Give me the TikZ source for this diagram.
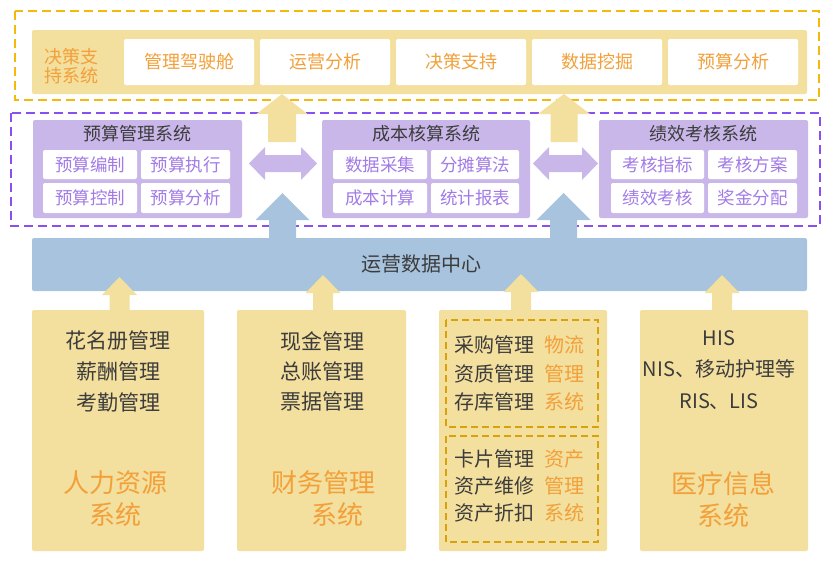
\documentclass[tikz,border=0pt]{standalone}
\usepackage{fontspec}
\setmainfont{Noto Sans CJK SC}
\definecolor{bandY}{HTML}{F3DF9E}
\definecolor{bandB}{HTML}{A7C3DD}
\definecolor{boxP}{HTML}{C9B7EA}
\definecolor{txtP}{HTML}{A27BE6}
\definecolor{txtO}{HTML}{F2A03A}
\definecolor{txtD}{HTML}{3C3C3C}
\definecolor{dashO}{HTML}{F5B90A}
\definecolor{dashP}{HTML}{8A4FF0}
\definecolor{dashG}{HTML}{D8A20A}
\newcommand\myUp[7]{% color, cx, tip, headbase, bottom, halfhead, halfshaft
  \fill[#1] (#2,#3) -- ({#2+#6},#4) -- ({#2+#7},#4) -- ({#2+#7},#5) -- ({#2-#7},#5) -- ({#2-#7},#4) -- ({#2-#6},#4) -- cycle;}
\newcommand\myBoth[6]{% color, xl, xr, cy, halfhead, halfshaft
  \fill[#1] (#2,#4) -- ({#2+16},{#4-#5}) -- ({#2+16},{#4-#6}) -- ({#3-16},{#4-#6}) -- ({#3-16},{#4-#5}) -- (#3,#4) -- ({#3-16},{#4+#5}) -- ({#3-16},{#4+#6}) -- ({#2+16},{#4+#6}) -- ({#2+16},{#4+#5}) -- cycle;}
\begin{document}
\begin{tikzpicture}[x=1pt,y=-1pt,
  rbox/.style={inner sep=0pt, rounded corners=2pt, draw=none},
  dssbox/.style={rbox, fill=white, minimum width=130pt, minimum height=46pt, text=txtO, font=\fontsize{18}{20}\selectfont},
  ptitle/.style={inner sep=0pt, text=txtD, font=\fontsize{18}{20}\selectfont},
  subbox/.style={rbox, fill=white, text=txtP, font=\fontsize{17.5}{20}\selectfont},
  pbox/.style={rbox, fill=boxP, minimum height=98pt},
  lowbox/.style={rbox, fill=bandY, minimum height=241pt},
  darktxt/.style={inner sep=0pt, align=center, text=txtD},
  orgtxt/.style={inner sep=0pt, align=center, text=txtO},
  dframe/.style={line width=1.8pt, dash pattern=on 9pt off 5pt},
]
\useasboundingbox (0,0) rectangle (822,563);

% decision support layer
\draw[dframe, draw=dashO] (15,11) rectangle (819,100);
\node[rbox, fill=bandY, minimum width=775pt, minimum height=64pt] (dss) at (419.5,62) {};
\node[orgtxt, font=\fontsize{18}{19}\selectfont] (dsslabel) at (71,66.5) {决策支\\持系统};
\node[dssbox] (d1) at (189,62) {管理驾驶舱};
\node[dssbox] (d2) at (325,62) {运营分析};
\node[dssbox] (d3) at (461,62) {决策支持};
\node[dssbox] (d4) at (597,62) {数据挖掘};
\node[dssbox] (d5) at (733,62) {预算分析};

% middle layer
\draw[dframe, draw=dashP] (11,113) rectangle (820,226);
\node[pbox, minimum width=209pt] (p1) at (137.5,169) {};
\node[pbox, minimum width=208pt] (p2) at (426,169) {};
\node[pbox, minimum width=209pt] (p3) at (703.5,169) {};
\node[ptitle] (t1) at (137.5,134) {预算管理系统};
\node[ptitle] (t2) at (426,134) {成本核算系统};
\node[ptitle] (t3) at (703.5,134) {绩效考核系统};

\node[subbox, minimum width=94pt, minimum height=29pt] (s11) at (90,164.5) {预算编制};
\node[subbox, minimum width=89pt, minimum height=29pt] (s12) at (185.5,164.5) {预算执行};
\node[subbox, minimum width=94pt, minimum height=30pt] (s13) at (90,198) {预算控制};
\node[subbox, minimum width=89pt, minimum height=30pt] (s14) at (185.5,198) {预算分析};

\node[subbox, minimum width=94pt, minimum height=29pt] (s21) at (380,164.5) {数据采集};
\node[subbox, minimum width=88pt, minimum height=29pt] (s22) at (475,164.5) {分摊算法};
\node[subbox, minimum width=94pt, minimum height=30pt] (s23) at (380,198) {成本计算};
\node[subbox, minimum width=88pt, minimum height=30pt] (s24) at (475,198) {统计报表};

\node[subbox, minimum width=93pt, minimum height=29pt] (s31) at (657.5,164.5) {考核指标};
\node[subbox, minimum width=89pt, minimum height=29pt] (s32) at (752.5,164.5) {考核方案};
\node[subbox, minimum width=93pt, minimum height=30pt] (s33) at (657.5,198) {绩效考核};
\node[subbox, minimum width=89pt, minimum height=30pt] (s34) at (752.5,198) {奖金分配};

% data center
\node[rbox, fill=bandB, minimum width=775pt, minimum height=53pt] (dc) at (419.5,264.5) {};
\node[darktxt, font=\fontsize{20}{22}\selectfont] (dctxt) at (421,264) {运营数据中心};

% bottom systems
\node[lowbox, minimum width=172pt] (b1) at (118,430.5) {};
\node[lowbox, minimum width=169pt] (b2) at (321.5,430.5) {};
\node[lowbox, minimum width=168pt] (b3) at (523,430.5) {};
\node[lowbox, minimum width=168pt] (b4) at (724,430.5) {};

\draw[line width=1.5pt, dash pattern=on 7pt off 4pt, draw=dashG] (446,320) rectangle (598,427);
\draw[line width=1.5pt, dash pattern=on 7pt off 4pt, draw=dashG] (446,436) rectangle (598,542);

\node[darktxt, font=\fontsize{21}{31}\selectfont] (b1t) at (118,372) {花名册管理\\薪酬管理\\考勤管理};
\node[orgtxt, font=\fontsize{26}{32}\selectfont] (b1o) at (115,499) {人力资源\\系统};

\node[darktxt, font=\fontsize{21}{30}\selectfont] (b2t) at (322,371) {现金管理\\总账管理\\票据管理};
\node[orgtxt, font=\fontsize{26}{32}\selectfont] (b2o) at (323,499) {财务管理\\\hspace*{28pt}系统};

\node[darktxt, font=\fontsize{20}{28.5}\selectfont] (b3t1) at (494,373.5) {采购管理\\资质管理\\存库管理};
\node[orgtxt, font=\fontsize{20}{28.5}\selectfont] (b3o1) at (564,373.5) {物流\\管理\\系统};
\node[darktxt, font=\fontsize{20}{27}\selectfont] (b3t2) at (494,486) {卡片管理\\资产维修\\资产折扣};
\node[orgtxt, font=\fontsize{20}{27}\selectfont] (b3o2) at (564,486) {资产\\管理\\系统};

\node[darktxt, font=\fontsize{20}{31.5}\selectfont] (b4t) at (719,370) {HIS\\NIS、移动护理等\\RIS、LIS};
\node[orgtxt, font=\fontsize{26}{32}\selectfont] (b4o) at (723,499) {医疗信息\\系统};

% arrows
\myUp{bandY}{282}{94}{114}{142}{25.5}{14}
\myUp{bandY}{564}{94}{114}{142}{26}{13.5}
\myBoth{boxP}{249}{317}{163.5}{16.5}{8.5}
\myBoth{boxP}{533}{598}{163.5}{16.5}{8.5}
\myUp{bandB}{282.5}{193}{220}{240}{27}{13.5}
\myUp{bandB}{563.5}{193}{220}{240}{27}{13.5}
\myUp{bandY}{119.5}{277}{295}{311}{17.5}{10}
\myUp{bandY}{323}{275}{293}{311}{17.5}{10}
\myUp{bandY}{521}{274}{292}{311}{17.5}{10}
\myUp{bandY}{722}{275}{293}{311}{17.5}{10}
\end{tikzpicture}
\end{document}
